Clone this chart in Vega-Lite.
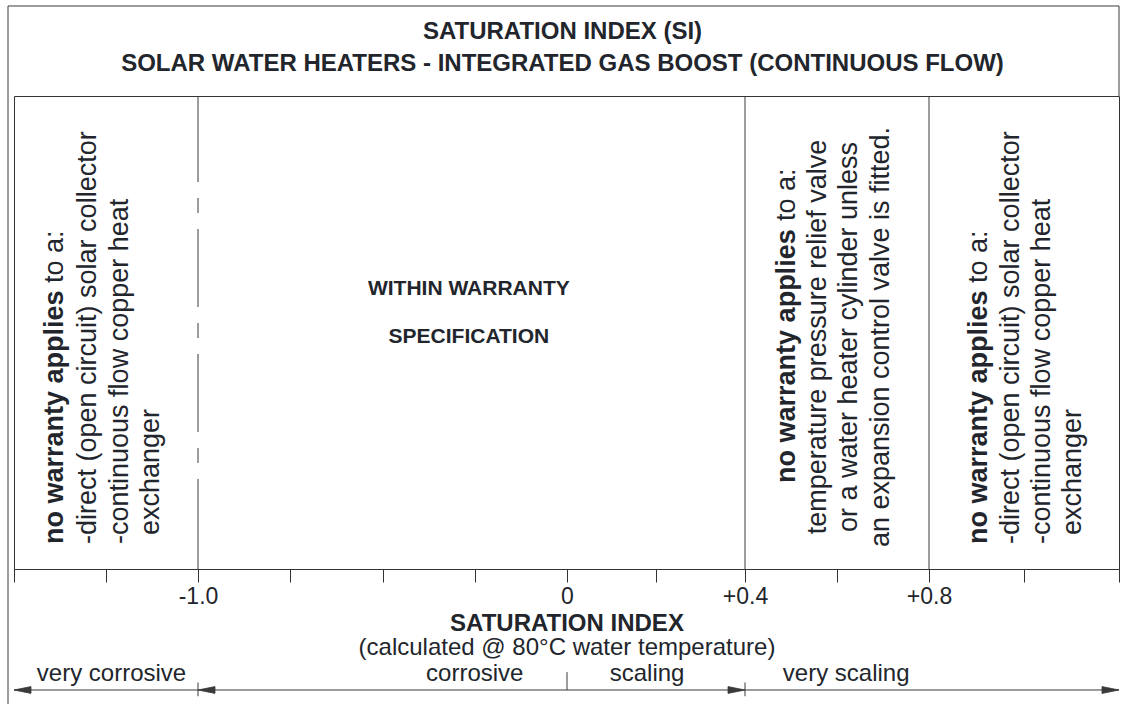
{
  "$schema": "https://vega.github.io/schema/vega-lite/v6.json",
  "width": 1105,
  "height": 473,
  "autosize": {"type": "none"},
  "padding": {"left": 14, "top": 96, "right": 2, "bottom": 135},
  "background": "white",
  "title": {
    "text": ["SATURATION INDEX (SI)", "SOLAR WATER HEATERS - INTEGRATED GAS BOOST (CONTINUOUS FLOW)"],
    "fontSize": 24,
    "fontWeight": "bold",
    "font": "Liberation Sans",
    "lineHeight": 32,
    "offset": -71,
    "anchor": "middle",
    "frame": "group",
    "dx": -4,
    "baseline": "top",
    "color": "#22262c"
  },
  "config": {
    "view": {"stroke": "#333333", "strokeWidth": 1},
    "font": "Liberation Sans"
  },
  "datasets": {
    "vrules": [
      {"si": 0.4, "lvl": 100, "lvl2": 0},
      {"si": 0.8, "lvl": 100, "lvl2": 0},
      {"si": -1.5163, "lvl": 119.03, "lvl2": -30},
      {"si": 1.2, "lvl": 119.03, "lvl2": 100},
      {"si": -1.0, "lvl": -24.0, "lvl2": -26.9},
      {"si": 0, "lvl": -21.8, "lvl2": -25.58},
      {"si": 0.4, "lvl": -24.0, "lvl2": -26.9}
    ],
    "dashed": [
      {"si": -1.0, "lvl": 100, "lvl2": 0}
    ],
    "hrules": [
      {"si": -1.5163, "si2": 1.2, "lvl": 119.03},
      {"si": -1.5, "si2": 1.2, "lvl": -25.58}
    ],
    "arrows": [
      {"si": -1.5, "lvl": -25.58, "dir": "left"},
      {"si": -1.0, "lvl": -25.58, "dir": "left"},
      {"si": 0.4, "lvl": -25.58, "dir": "right"},
      {"si": 1.2, "lvl": -25.58, "dir": "right"}
    ],
    "bottomText": [
      {"si": 0, "lvl": -18.18, "text": "(calculated @ 80°C water temperature)"},
      {"si": -1.235, "lvl": -23.68, "text": "very corrosive"},
      {"si": -0.25, "lvl": -23.68, "text": "corrosive"},
      {"si": 0.18, "lvl": -23.68, "text": "scaling"},
      {"si": 0.62, "lvl": -23.68, "text": "very scaling"}
    ],
    "centerText": [
      {"si": -0.266, "lvl": 57.93, "text": "WITHIN WARRANTY"},
      {"si": -0.266, "lvl": 47.78, "text": "SPECIFICATION"}
    ],
    "vertBold": [
      {"si": -1.3668, "lvl": 5.29, "text": "no warranty applies"},
      {"si": 0.5087, "lvl": 18.2, "text": "no warranty applies"},
      {"si": 0.9221, "lvl": 5.29, "text": "no warranty applies"}
    ],
    "vertLeft": [
      {"si": -1.3668, "lvl": 60.46, "text": "to a:"},
      {"si": -1.2772, "lvl": 5.29, "text": "-direct (open circuit) solar collector"},
      {"si": -1.1902, "lvl": 5.29, "text": "-continuous flow copper heat"},
      {"si": -1.106, "lvl": 7.19, "text": "exchanger"},
      {"si": 0.5087, "lvl": 73.57, "text": "to a:"},
      {"si": 0.9221, "lvl": 60.46, "text": "to a:"},
      {"si": 0.9895, "lvl": 5.29, "text": "-direct (open circuit) solar collector"},
      {"si": 1.0547, "lvl": 5.29, "text": "-continuous flow copper heat"},
      {"si": 1.12, "lvl": 7.19, "text": "exchanger"}
    ],
    "vertCenter": [
      {"si": 0.5761, "lvl": 49.05, "text": "temperature pressure relief valve"},
      {"si": 0.6435, "lvl": 49.05, "text": "or a water heater cylinder unless"},
      {"si": 0.713, "lvl": 49.05, "text": "an expansion control valve is fitted."}
    ]
  },
  "layer": [
    {
      "data": {"name": "vrules"},
      "mark": {"type": "rule", "color": "#3a3a3a", "strokeWidth": 1},
      "encoding": {
        "x": {
          "field": "si",
          "type": "quantitative",
          "scale": {
            "domain": [-1.5, -1.0, 0, 0.4, 0.8, 1.2],
            "range": [0, 184, 553, 731, 915, 1105],
            "nice": false,
            "zero": false
          },
          "axis": {
            "values": [-1.5, -1.25, -1.0, -0.75, -0.5, -0.25, 0, 0.2, 0.4, 0.6, 0.8, 1.0, 1.2],
            "labelExpr": "datum.value == -1 ? '-1.0' : datum.value == 0 ? '0' : datum.value == 0.4 ? '+0.4' : datum.value == 0.8 ? '+0.8' : ''",
            "grid": false,
            "domain": true,
            "domainColor": "#333333",
            "ticks": true,
            "tickSize": 13,
            "tickColor": "#333333",
            "labelFontSize": 23,
            "labelFont": "Liberation Sans",
            "labelColor": "#22262c",
            "labelPadding": 3,
            "labelFlush": false,
            "labelOverlap": false,
            "labelBound": false,
            "title": "SATURATION INDEX",
            "titleFont": "Liberation Sans",
            "titleFontSize": 24,
            "titleFontWeight": "bold",
            "titleColor": "#22262c",
            "titlePadding": 3
          }
        },
        "y": {
          "field": "lvl",
          "type": "quantitative",
          "scale": {"domain": [0, 100], "nice": false, "zero": false},
          "axis": null
        },
        "y2": {"field": "lvl2"}
      }
    },
    {
      "data": {"name": "dashed"},
      "mark": {"type": "rule", "color": "#3a3a3a", "strokeWidth": 1, "strokeDash": [86, 16, 15, 16, 78, 16, 15, 16, 78, 16, 15, 16, 86, 0]},
      "encoding": {
        "x": {"field": "si", "type": "quantitative"},
        "y": {"field": "lvl", "type": "quantitative"},
        "y2": {"field": "lvl2"}
      }
    },
    {
      "data": {"name": "hrules"},
      "mark": {"type": "rule", "color": "#3a3a3a", "strokeWidth": 1},
      "encoding": {
        "x": {"field": "si", "type": "quantitative"},
        "x2": {"field": "si2"},
        "y": {"field": "lvl", "type": "quantitative"}
      }
    },
    {
      "data": {"name": "arrows"},
      "mark": {"type": "point", "filled": true, "size": 289, "color": "#3a3a3a", "opacity": 1, "stroke": "#3a3a3a", "strokeWidth": 0.8},
      "encoding": {
        "x": {"field": "si", "type": "quantitative"},
        "y": {"field": "lvl", "type": "quantitative"},
        "shape": {
          "field": "dir",
          "type": "nominal",
          "scale": {"domain": ["left", "right"], "range": ["M0,0L2,-0.4L2,0.4Z", "M0,0L-2,-0.4L-2,0.4Z"]},
          "legend": null
        }
      }
    },
    {
      "data": {"name": "bottomText"},
      "mark": {"type": "text", "fontSize": 24, "align": "center", "baseline": "alphabetic", "color": "#22262c", "font": "Liberation Sans"},
      "encoding": {
        "x": {"field": "si", "type": "quantitative"},
        "y": {"field": "lvl", "type": "quantitative"},
        "text": {"field": "text"}
      }
    },
    {
      "data": {"name": "centerText"},
      "mark": {"type": "text", "fontSize": 21, "fontWeight": "bold", "align": "center", "baseline": "alphabetic", "color": "#22262c", "font": "Liberation Sans"},
      "encoding": {
        "x": {"field": "si", "type": "quantitative"},
        "y": {"field": "lvl", "type": "quantitative"},
        "text": {"field": "text"}
      }
    },
    {
      "data": {"name": "vertBold"},
      "mark": {"type": "text", "fontSize": 27, "fontWeight": "bold", "angle": 270, "align": "left", "baseline": "alphabetic", "color": "#22262c", "font": "Liberation Sans"},
      "encoding": {
        "x": {"field": "si", "type": "quantitative"},
        "y": {"field": "lvl", "type": "quantitative"},
        "text": {"field": "text"}
      }
    },
    {
      "data": {"name": "vertLeft"},
      "mark": {"type": "text", "fontSize": 27, "angle": 270, "align": "left", "baseline": "alphabetic", "color": "#22262c", "font": "Liberation Sans"},
      "encoding": {
        "x": {"field": "si", "type": "quantitative"},
        "y": {"field": "lvl", "type": "quantitative"},
        "text": {"field": "text"}
      }
    },
    {
      "data": {"name": "vertCenter"},
      "mark": {"type": "text", "fontSize": 27, "angle": 270, "align": "center", "baseline": "alphabetic", "color": "#22262c", "font": "Liberation Sans"},
      "encoding": {
        "x": {"field": "si", "type": "quantitative"},
        "y": {"field": "lvl", "type": "quantitative"},
        "text": {"field": "text"}
      }
    }
  ]
}
